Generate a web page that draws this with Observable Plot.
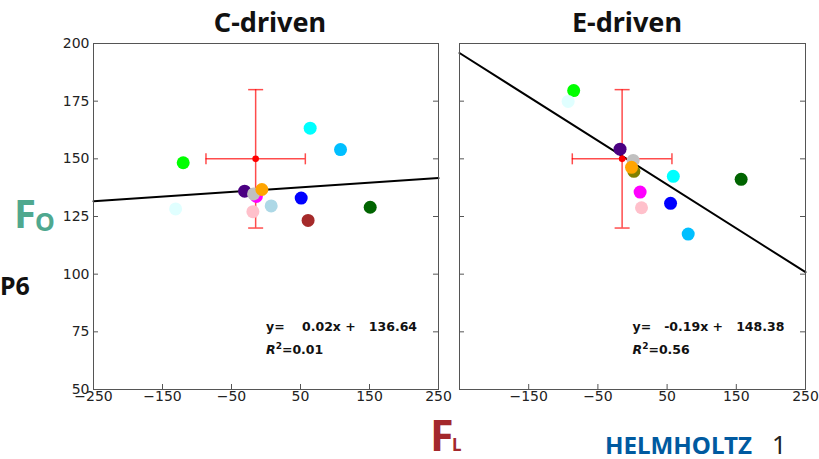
<!DOCTYPE html>
<html>
<head>
<meta charset="utf-8">
<script src="https://cdn.jsdelivr.net/npm/d3@7"></script>
<script src="https://cdn.jsdelivr.net/npm/@observablehq/plot@0.6"></script>
<style>
  html, body { margin: 0; padding: 0; background: white; }
  #wrap { position: relative; width: 819px; height: 459px; overflow: hidden; background: white; }
  #wrap > svg { position: absolute; top: 0; }
</style>
</head>
<body>
<div id="wrap"></div>
<script>
// ---- data ----
const modelColors = ["lime", "cyan", "deepskyblue", "indigo", "magenta", "silver", "olive", "orange", "blue", "darkgreen", "lightcyan", "lightblue", "pink", "brown"];
const cFL = [-120, 64, 108, -31, -14, -18, null, -6, 51, 151, -131, 7.5, -19, 61];
const cFO = [148.3, 163.3, 154, 136, 133.7, 134.8, null, 136.7, 133, 129, 128.3, 129.6, 127.1, 123.3];
const eFL = [-85, 59, 80.5, -18, 11, 1, 2, -1.4, 55, 157, -93, null, 13, null];
const eFO = [179.6, 142.4, 117.4, 154.2, 135.6, 149.3, 144.6, 146.3, 130.7, 141.1, 174.9, null, 128.8, null];
const panelTitles = ["C-driven", "E-driven"];
const fitSlope = [0.02, -0.19];
const fitIntercept = [136.64, 148.38];
const fitR2 = [0.01, 0.56];
const meanFL = [-15, -15];
const meanFO = [150, 150];
const sdFL = [72, 72];
const sdFO = [30, 30];
const xDomain = [-250, 250];
const yDomain = [50, 200];
const xTicksLeft = [-250, -150, -50, 50, 150, 250];
const xTicksRight = [-150, -50, 50, 150, 250];
const yTicks = [50, 75, 100, 125, 150, 175, 200];

// ---- helpers ----
const hcap = {draw(ctx, size) { const r = Math.sqrt(size / Math.PI); ctx.moveTo(-r, 0); ctx.lineTo(r, 0); }};
const vcap = {draw(ctx, size) { const r = Math.sqrt(size / Math.PI); ctx.moveTo(0, -r); ctx.lineTo(0, r); }};
const NB = "\u00a0";
const fmt8 = v => v.toFixed(2).padStart(8, " ").replace(/ /g, NB);

function panel(i, fl, fo, xTicks, showYLabels, left, width, mL, mR) {
  const H = 410, mT = 43, mB = 21;
  const innerH = H - mT - mB, innerW = width - mL - mR;
  const pts = modelColors.map((c, k) => ({c, x: fl[k], y: fo[k]})).filter(d => d.x != null);
  const line = xDomain.map(x => ({x, y: fitSlope[i] * x + fitIntercept[i]}));
  const m = {x: meanFL[i], y: meanFO[i], sx: sdFL[i], sy: sdFO[i]};
  const eq1 = "y=" + fmt8(fitSlope[i]) + "x" + NB + "+" + NB + fmt8(fitIntercept[i]);
  const eq2 = "R²=" + fitR2[i].toFixed(2);
  const errColor = "red";
  const marks = [
    Plot.line(line, {x: "x", y: "y", stroke: "black", strokeWidth: 2}),
    Plot.ruleX([m], {x: "x", y1: d => d.y - d.sy, y2: d => d.y + d.sy, stroke: errColor, strokeOpacity: 0.7, strokeWidth: 1.5}),
    Plot.ruleY([m], {y: "y", x1: d => d.x - d.sx, x2: d => d.x + d.sx, stroke: errColor, strokeOpacity: 0.7, strokeWidth: 1.5}),
    Plot.dot([m, m], {x: "x", y: (d, k) => k ? d.y + d.sy : d.y - d.sy, symbol: hcap, r: 7.5, stroke: errColor, strokeOpacity: 0.7, strokeWidth: 1.5, fill: "none"}),
    Plot.dot([m, m], {x: (d, k) => k ? d.x + d.sx : d.x - d.sx, y: "y", symbol: vcap, r: 5.5, stroke: errColor, strokeOpacity: 0.7, strokeWidth: 1.5, fill: "none"}),
    Plot.dot(pts, {x: "x", y: "y", fill: "c", r: 6.5}),
    Plot.dot([m], {x: "x", y: "y", fill: "red", r: 3.3}),
    Plot.text([eq1, eq2], {x: 0, y: (d, k) => k ? 67 : 77, text: d => d, textAnchor: "start", fontWeight: "bold", fontSize: 12.5, fill: "#111"}),
    Plot.frame({stroke: "#555"}),
    Plot.tickX(xTicks, {x: d => d, insetTop: innerH - 5, stroke: "#555"}),
    Plot.tickY(yTicks, {y: d => d, insetRight: innerW - 5, stroke: "#555"}),
    Plot.tickY(yTicks, {y: d => d, insetLeft: innerW - 5, stroke: "#555"}),
    Plot.axisX({ticks: xTicks, tickSize: 0, tickPadding: 2, tickFormat: d3.format("d"), label: null, fill: "#222"})
  ];
  if (showYLabels) marks.push(Plot.axisY({ticks: yTicks, tickSize: 0, tickPadding: 4, tickFormat: d3.format("d"), label: null, fill: "#222"}));
  const svg = Plot.plot({
    width, height: H, marginLeft: mL, marginRight: mR, marginTop: mT, marginBottom: mB,
    x: {domain: xDomain, nice: false},
    y: {domain: yDomain, nice: false, axis: showYLabels ? undefined : null},
    color: {type: "identity"},
    style: {fontFamily: "DejaVu Sans", fontSize: "14px", background: "transparent", overflow: "visible"},
    marks
  });
  svg.style.left = left + "px";
  // italic R with superscript 2
  d3.select(svg).selectAll("text").each(function() {
    const t = this.textContent;
    if (t.startsWith("R²")) {
      const s = d3.select(this);
      s.text(null);
      s.append("tspan").attr("font-style", "italic").text("R");
      s.append("tspan").attr("font-size", 9).attr("dy", -5).text("2");
      s.append("tspan").attr("dy", 5).text(t.slice(2));
    }
  });
  return svg;
}

const wrap = document.getElementById("wrap");
wrap.appendChild(panel(0, cFL, cFO, xTicksLeft, true, 0, 445, 93, 7));
wrap.appendChild(panel(1, eFL, eFO, xTicksRight, false, 445, 374, 14, 14));

// ---- slide labels ----
const ov = d3.select(wrap).append("svg").attr("width", 819).attr("height", 459).style("left", "0px").style("pointer-events", "none");
const titleX = [270, 627];
panelTitles.forEach((t, k) => ov.append("text").attr("x", titleX[k]).attr("y", 32).attr("text-anchor", "middle")
  .attr("font-family", "Noto Sans").attr("font-weight", "bold").attr("font-size", 27).attr("fill", "#111").text(t));
const fo = ov.append("text").attr("font-family", "Noto Sans").attr("font-weight", "bold").attr("fill", "#4FA88F");
fo.append("tspan").attr("x", 14).attr("y", 228).attr("font-size", 40).text("F");
fo.append("tspan").attr("x", 35).attr("y", 231).attr("font-size", 25).text("O");
ov.append("text").attr("x", 0).attr("y", 295).attr("font-family", "Noto Sans").attr("font-weight", "bold").attr("font-size", 25).attr("fill", "#111").text("P6");
const flab = ov.append("text").attr("font-family", "Noto Sans").attr("font-weight", "bold").attr("fill", "#A3282C");
flab.append("tspan").attr("x", 430).attr("y", 451).attr("font-size", 43).text("F");
flab.append("tspan").attr("x", 452).attr("y", 451).attr("font-size", 17).text("L");
ov.append("text").attr("x", 605).attr("y", 454).attr("font-family", "Noto Sans").attr("font-weight", "bold").attr("font-size", 24)
  .attr("fill", "#005AA0").attr("textLength", 147).attr("lengthAdjust", "spacingAndGlyphs").text("HELMHOLTZ");
ov.append("text").attr("x", 772).attr("y", 454).attr("font-family", "Noto Sans").attr("font-size", 25).attr("fill", "#222").text("1");
</script>
</body>
</html>
